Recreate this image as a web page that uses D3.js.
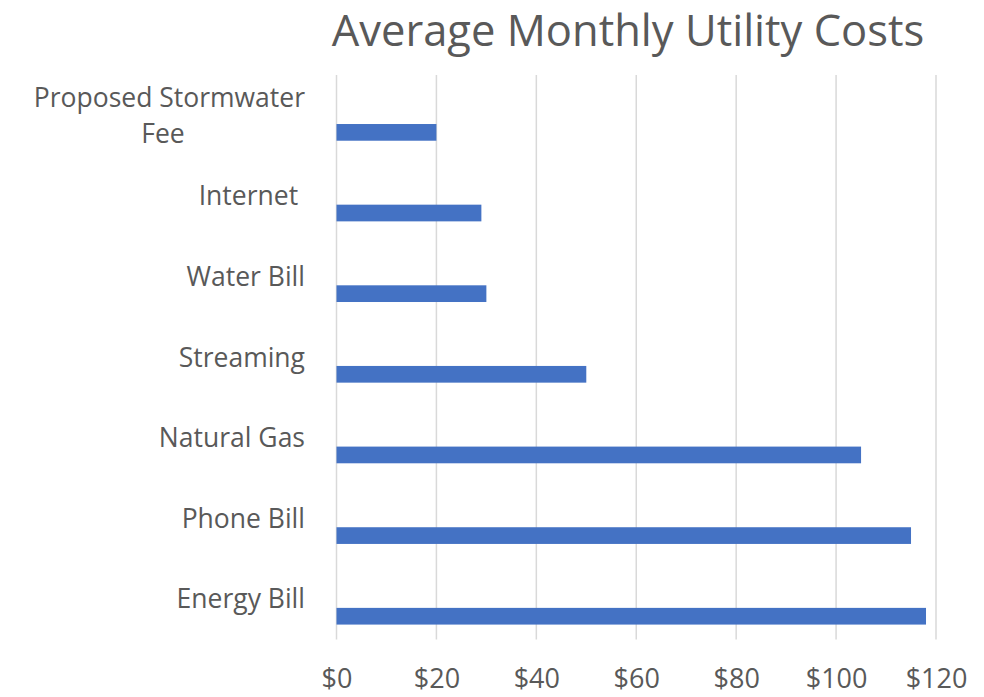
<!DOCTYPE html>
<html>
<head>
<meta charset="utf-8">
<script src="https://cdn.jsdelivr.net/npm/d3@7"></script>
<style>
  body { margin: 0; background: #fff; }
  text { font-family: "Open Sans", sans-serif; fill: #595959; white-space: pre; }
</style>
</head>
<body>
<svg id="chart"></svg>
<script>
// data
var categories = ['Proposed Stormwater Fee', 'Internet ', 'Water Bill', 'Streaming', 'Natural Gas', 'Phone Bill', 'Energy Bill']
var costs = [20, 29, 30, 50, 105, 115, 118]
var ticks = [0, 20, 40, 60, 80, 100, 120]

var width = 984
var height = 697
var svg = d3.select('#chart').attr('width', width).attr('height', height)

var plotLeft = 336.5, plotRight = 936, plotTop = 75, plotBottom = 639.5

var x = d3.scaleLinear().domain([0, 120]).range([plotLeft, plotRight])
var y = d3.scaleBand().domain(categories).range([plotTop, plotBottom])

// grid lines
svg.append('g').selectAll('line').data(ticks).enter().append('line')
  .attr('x1', function (d) { return x(d) })
  .attr('x2', function (d) { return x(d) })
  .attr('y1', plotTop)
  .attr('y2', plotBottom)
  .attr('stroke', '#d9d9d9')
  .attr('stroke-width', 1.5)

// bars (sit in lower half of each band, like excel clustered bar)
var barH = 16.7
svg.append('g').selectAll('rect').data(costs).enter().append('rect')
  .attr('x', x(0))
  .attr('y', function (d, i) { return y(categories[i]) + y.bandwidth() / 2 + 8.7 })
  .attr('width', function (d) { return x(d) - x(0) })
  .attr('height', barH)
  .attr('fill', '#4472c4')

// x axis labels
var xAxis = d3.axisBottom(x).tickValues(ticks).tickSize(0).tickFormat(function (d) { return '$' + d })
var gx = svg.append('g').attr('transform', 'translate(0,' + (plotBottom + 21) + ')').call(xAxis)
gx.select('.domain').remove()
gx.selectAll('text').attr('font-size', 27).attr('dy', '0.9em')
  .style('font-family', '"Open Sans", sans-serif').attr('fill', '#595959')

// category labels
var labelX = 305
svg.append('g').selectAll('text').data(categories).enter().append('text')
  .attr('x', labelX)
  .attr('text-anchor', 'end')
  .attr('font-size', 26.5)
  .each(function (d) {
    var t = d3.select(this)
    var cy = y(d) + y.bandwidth() / 2
    if (d === 'Proposed Stormwater Fee') {
      t.append('tspan').attr('x', labelX).attr('y', cy - 18).attr('dy', '0.35em').text('Proposed Stormwater')
      t.append('tspan').attr('x', 163).attr('text-anchor', 'middle').attr('y', cy + 18).attr('dy', '0.35em').text('Fee')
    } else {
      t.attr('y', cy).attr('dy', '0.35em').text(d)
    }
  })

// title
svg.append('text')
  .attr('x', 628)
  .attr('y', 31)
  .attr('dy', '0.35em')
  .attr('text-anchor', 'middle')
  .attr('font-size', 43.5)
  .text('Average Monthly Utility Costs')
</script>
</body>
</html>
